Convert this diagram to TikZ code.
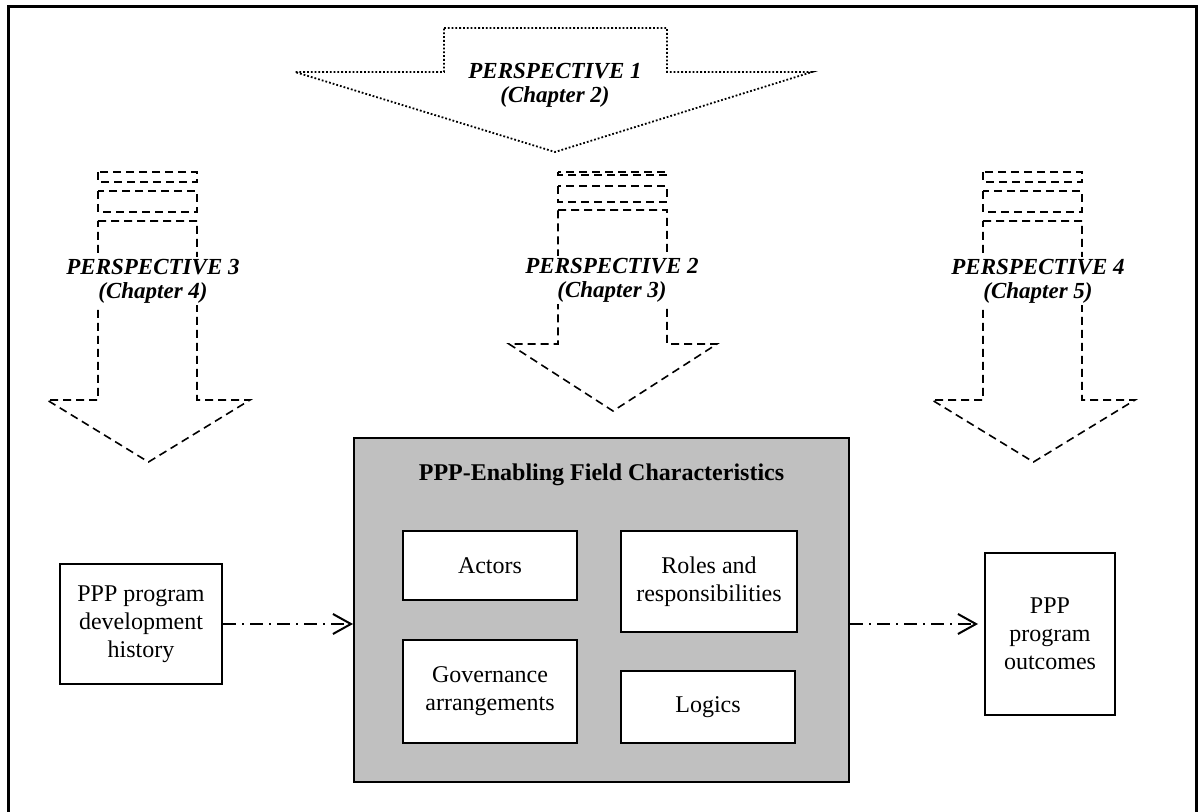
\documentclass[tikz,border=0pt]{standalone}
\usepackage{fontspec}
\setmainfont{Liberation Serif}
\usetikzlibrary{arrows.meta,positioning}
\definecolor{gray75}{RGB}{192,192,192}

\begin{document}
\begin{tikzpicture}
[x=0.5pt,y=-0.5pt,align=center,font=\fontsize{12}{14}\selectfont]
\tikzstyle{plain}=[fill=white,draw,line width=1pt,inner sep=2pt]
\tikzstyle{persp}=[font=\fontsize{11.5}{12}\selectfont\bfseries\itshape,fill=white,inner sep=1pt]
\tikzstyle{dashline}=[line width=0.8pt,dash pattern=on 4pt off 2.5pt]
\tikzstyle{flow}=[line width=1pt,dash pattern=on 6.5pt off 3pt on 1pt off 3pt,-{Straight Barb[length=9pt,width=10pt,line width=1pt]}]

\useasboundingbox (0,0) rectangle (1201,812);
\draw [line width=1.5pt] (8,7) rectangle (1196,830);

% perspective 1
\draw [densely dotted,line width=0.9pt] (444,28) -- (667,28) -- (667,72) -- (812,72) -- (555,152) -- (295,72) -- (444,72) -- cycle;
\draw node [persp,fill=none] (p1) at (555,85) {PERSPECTIVE 1\\(Chapter 2)};

% perspectives 3 and 4
\foreach \dx/\nm/\num/\ch in {0/p3/3/4,885/p4/4/5} {
\begin{scope}[shift={(\dx,0)}]
\draw [dashline] (98,172) rectangle (197,182);
\draw [dashline] (98,191) rectangle (197,212);
\draw [dashline] (98,221) -- (197,221) -- (197,400) -- (250,400) -- (148.5,462) -- (47,400) -- (98,400) -- cycle;
\draw node [persp] (\nm) at (153,281) {PERSPECTIVE \num\\(Chapter \ch)};
\end{scope}
}

% perspective 2
\draw [dashline] (558,172) rectangle (667,175);
\draw [dashline] (558,186) rectangle (667,202);
\draw [dashline] (558,210) -- (667,210) -- (667,344) -- (717,344) -- (613,411) -- (509,344) -- (558,344) -- cycle;
\draw node [persp] (p2) at (612,280) {PERSPECTIVE 2\\(Chapter 3)};

% field
\draw node [draw,line width=1pt,fill=gray75,minimum width=247.5pt,minimum height=172pt] (field) at (601.5,610) {};
\draw node [font=\fontsize{12}{14}\selectfont\bfseries] (title) at (601.5,475) {PPP-Enabling Field Characteristics};
\draw node [plain,minimum width=87pt,minimum height=34.5pt] (actors) at (490,565.5) {Actors};
\draw node [plain,minimum width=88pt,minimum height=50.5pt] (roles) at (709,581.5) {Roles and\\responsibilities};
\draw node [plain,minimum width=87pt,minimum height=51.5pt] (gov) at (490,691.5) {Governance\\arrangements};
\draw node [plain,minimum width=87pt,minimum height=36pt] (logics) at (708,707) {Logics};

\draw node [plain,minimum width=81pt,minimum height=60pt] (hist) at (141,624) {PPP program\\development\\history};
\draw node [plain,minimum width=65pt,minimum height=81pt] (outc) at (1050,634) {PPP\\program\\outcomes};

\draw [flow] (hist.east) -- (hist.east -| field.west);
\draw [flow,shorten >=3pt] (hist.east -| field.east) -- (hist.east -| outc.west);

\end{tikzpicture}
\end{document}
